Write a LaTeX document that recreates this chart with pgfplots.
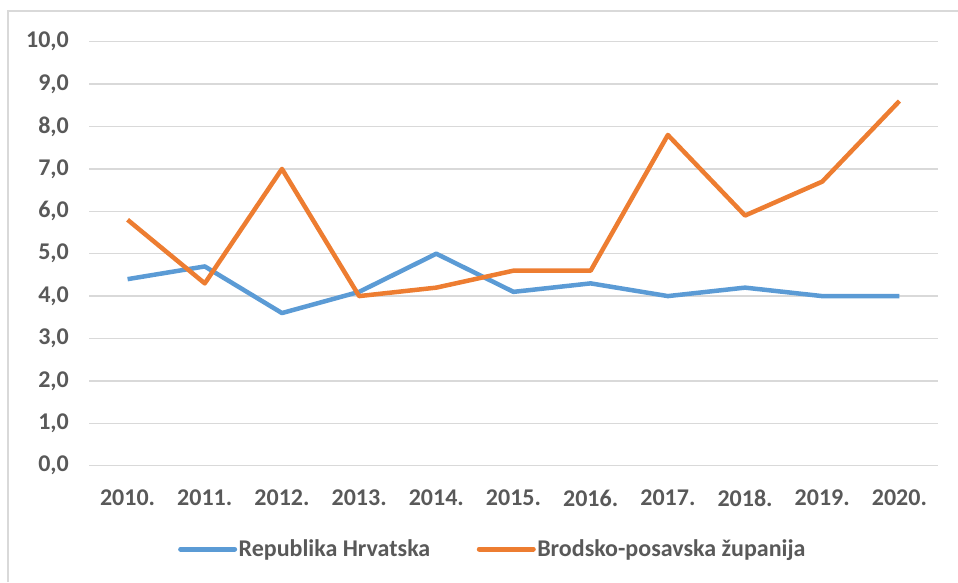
\documentclass[border=0pt]{standalone}
\usepackage{pgfplots}
\pgfplotsset{compat=1.18}
\usepackage{fontspec}
\setmainfont{Carlito}
\definecolor{cblue}{HTML}{5B9BD5}
\definecolor{corange}{HTML}{ED7D31}
\definecolor{gridc}{HTML}{D9D9D9}
\definecolor{txt}{HTML}{595959}
\begin{document}
\begin{tikzpicture}
\useasboundingbox (0pt,0pt) rectangle (958pt,582pt);
\draw[gridc, line width=2pt] (8pt,0pt) -- (8pt,571pt) -- (958pt,571pt);
\begin{axis}[
  at={(89pt,116.3pt)}, anchor=south west,
  scale only axis, width=849pt, height=424pt,
  xmin=-0.5, xmax=10.5, ymin=0, ymax=10,
  xtick={0,...,10},
  xticklabels={2010.,2011.,2012.,2013.,2014.,2015.,2016.,2017.,2018.,2019.,2020.},
  ytick={0,...,10},
  ymajorgrids, major grid style={gridc, line width=1.5pt},
  axis line style={draw=none},
  major tick style={draw=none},
  /pgf/number format/assume math mode=true,
  yticklabel style={/pgf/number format/fixed, /pgf/number format/fixed zerofill,
    /pgf/number format/precision=1, /pgf/number format/use comma, xshift=-20pt},
  ticklabel style={font=\fontsize{24}{28}\selectfont\bfseries, text=txt, inner sep=0pt},
  xticklabel style={yshift=-24pt},
  legend style={at={(0.4753,-0.1965)}, anchor=center, draw=none, fill=none,
    legend columns=2, font=\fontsize{24}{28}\selectfont\bfseries, text=txt,
    /tikz/every even column/.append style={column sep=45pt},
    nodes={inner sep=1.5pt}},
  legend image code/.code={\draw[#1, line width=5pt, line cap=round] (0pt,0pt) -- (54pt,0pt);},
  every axis plot/.append style={line width=4.5pt, line join=round},
]
\addplot[cblue] coordinates {(0,4.4) (1,4.7) (2,3.6) (3,4.1) (4,5.0) (5,4.1) (6,4.3) (7,4.0) (8,4.2) (9,4.0) (10,4.0)};
\addlegendentry{Republika Hrvatska}
\addplot[corange] coordinates {(0,5.8) (1,4.3) (2,7.0) (3,4.0) (4,4.2) (5,4.6) (6,4.6) (7,7.8) (8,5.9) (9,6.7) (10,8.6)};
\addlegendentry{Brodsko-posavska županija}
\end{axis}
\end{tikzpicture}
\end{document}
